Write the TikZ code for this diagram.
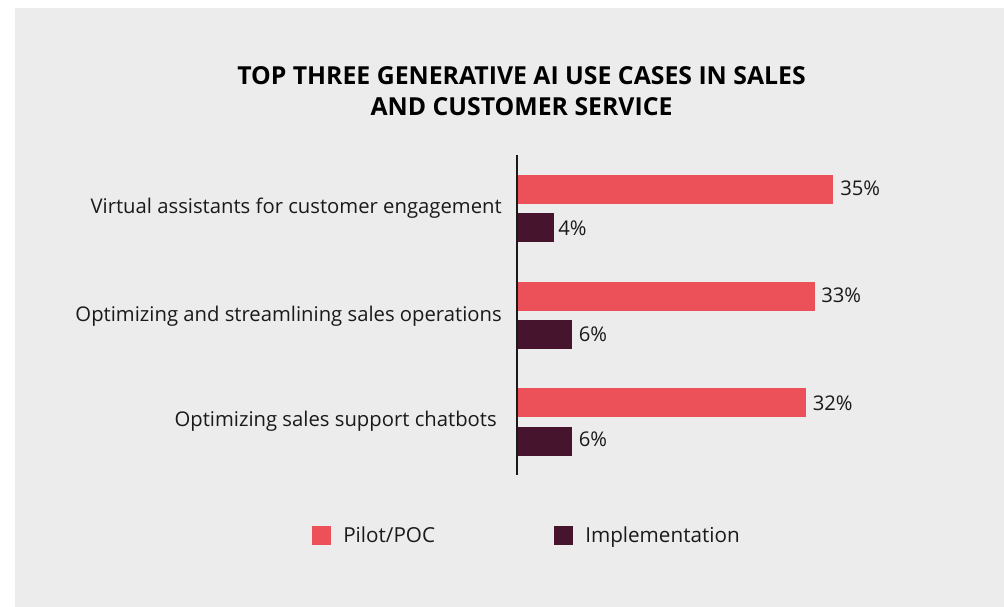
\documentclass[tikz,border=0pt]{standalone}
\usepackage{fontspec}
\setmainfont{Open Sans}
\definecolor{panel}{HTML}{ECECEC}
\definecolor{pilot}{HTML}{EC5159}
\definecolor{impl}{HTML}{46142D}
\definecolor{ink}{HTML}{1A1A1A}
\tikzset{
  pilotbar/.style={fill=pilot,draw=none},
  implbar/.style={fill=impl,draw=none},
  catlabel/.style={anchor=base east,inner sep=0pt,text=ink,font=\fontsize{15.2}{18}\selectfont},
  vallabel/.style={anchor=base west,inner sep=0pt,text=ink,font=\fontsize{15.2}{18}\selectfont},
  legtext/.style={anchor=base west,inner sep=0pt,text=ink,font=\fontsize{15.5}{18}\selectfont},
}
\begin{document}
\begin{tikzpicture}[x=0.75pt,y=-0.75pt]
\useasboundingbox (0,0) rectangle (1004,607);
\fill[white] (0,0) rectangle (1004,607);
\fill[panel] (15,8) rectangle (1004,607);
% title
\node[anchor=base,inner sep=0pt,text=black,font=\bfseries\fontsize{18.6}{22}\selectfont] (t1) at (521.5,84) {TOP THREE GENERATIVE AI USE CASES IN SALES};
\node[anchor=base,inner sep=0pt,text=black,font=\bfseries\fontsize{18.6}{22}\selectfont] (t2) at (521.5,115.5) {AND CUSTOMER SERVICE};
% bars
\fill[pilotbar] (517,175) rectangle (833,204);
\fill[implbar] (517,213) rectangle (554,242);
\fill[pilotbar] (517,282) rectangle (815,311);
\fill[implbar] (517,320) rectangle (572,349);
\fill[pilotbar] (517,388) rectangle (806,417);
\fill[implbar] (517,427) rectangle (572,456);
% axis
\coordinate (axtop) at (517,155);
\coordinate (axbot) at (517,475);
\draw[line width=1.3pt,draw=ink] (axtop) -- (axbot);
% value labels
\node[vallabel] (v1) at (840,195) {35\%};
\node[vallabel] (v2) at (558,235) {4\%};
\node[vallabel] (v3) at (821,302.5) {33\%};
\node[vallabel] (v4) at (578.5,341) {6\%};
\node[vallabel] (v5) at (812.5,410) {32\%};
\node[vallabel] (v6) at (578.5,446.5) {6\%};
% category labels
\node[catlabel] (c1) at (502,213) {Virtual assistants for customer engagement};
\node[catlabel] (c2) at (502,321) {Optimizing and streamlining sales operations};
\node[catlabel] (c3) at (497,426) {Optimizing sales support chatbots};
% legend
\fill[pilot] (312,526) rectangle (331,544.5);
\node[legtext] (l1) at (343,542.5) {Pilot/POC};
\fill[impl] (554,526) rectangle (573,544.5);
\node[legtext] (l2) at (585,542.5) {Implementation};
\end{tikzpicture}
\end{document}
